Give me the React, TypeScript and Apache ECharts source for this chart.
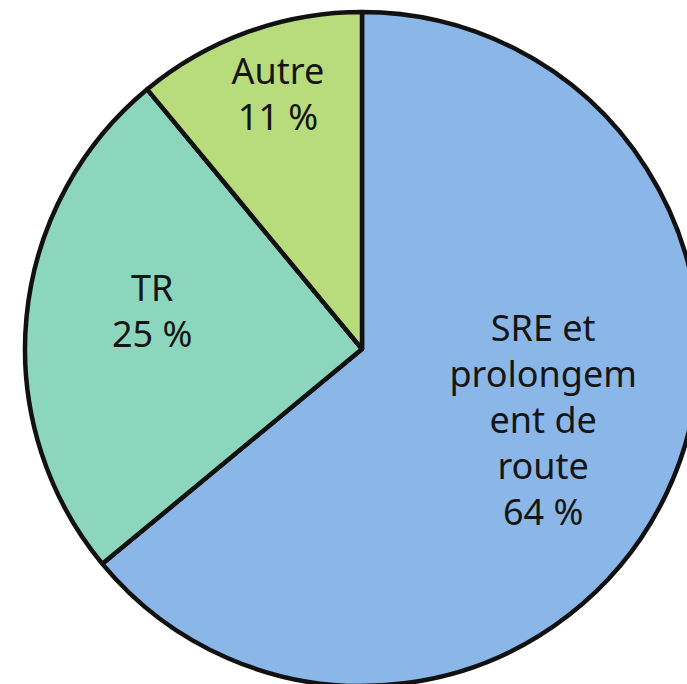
import React, { useEffect, useRef } from "react";
import * as echarts from "echarts";

const categories = ["SRE et\nprolongem\nent de\nroute", "TR", "Autre"];
const values = [64, 25, 11];
const colors = ["#8BB7E8", "#8DD6BE", "#B8DC7C"];

// label nudges (px) relative to ECharts' default inside position
const labelNudges: [number, number][] = [
  [26, -3],
  [-39, -22],
  [-26, -94],
];

export default function App() {
  const ref = useRef<HTMLDivElement>(null);
  useEffect(() => {
    document.body.style.margin = "0";
    if (!ref.current) return;
    const chart = echarts.init(ref.current, null, { renderer: "svg" });
    chart.setOption({
      animation: false,
      backgroundColor: "#ffffff",
      series: [
        {
          type: "pie",
          center: [362, 349],
          radius: 337,
          startAngle: 90,
          clockwise: true,
          avoidLabelOverlap: false,
          data: categories.map((name, i) => ({
            name,
            value: values[i],
            itemStyle: { color: colors[i] },
          })),
          itemStyle: { borderColor: "#111111", borderWidth: 4.5 },
          label: {
            show: true,
            position: "inside",
            formatter: (p: any) => `${p.name}\n${p.value} %`,
            fontFamily: "Noto Sans",
            fontSize: 36,
            lineHeight: 46,
            color: "#151515",
            align: "center",
          },
          labelLine: { show: false },
          labelLayout: (params: any) => {
            const n = labelNudges[params.dataIndex] || [0, 0];
            return { dx: n[0], dy: n[1] };
          },
          emphasis: { disabled: true },
        },
      ],
    });
    return () => chart.dispose();
  }, []);
  return <div ref={ref} style={{ width: 687, height: 684 }} />;
}
